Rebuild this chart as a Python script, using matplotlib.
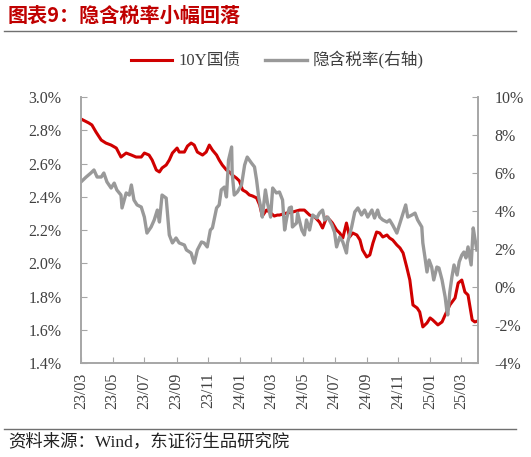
import matplotlib
matplotlib.use('Agg')
import matplotlib.pyplot as plt
import matplotlib.dates as mdates
import pandas as pd

# Data (days counted from 2023-03-01)
start = pd.Timestamp('2023-03-01')

cgb_days = [0, 15, 21, 29, 39, 48, 58, 68, 77, 87, 97, 106, 116, 122, 131, 137, 145, 151,
            156, 164, 170, 176, 185, 189, 199, 205, 212, 218, 224, 234, 241, 247, 253, 261,
            266, 272, 280, 286, 291, 299, 305, 311, 318, 324, 330, 338, 344, 349, 357, 363,
            372, 378, 382, 396, 407, 421, 430, 440, 450, 459, 465, 473, 479, 484, 492, 498,
            504, 511, 517, 523, 531, 537, 542, 550, 556, 562, 569, 575, 581, 589, 594, 600,
            608, 614, 620, 627, 633, 639, 647, 652, 658, 666, 672, 677, 687, 695, 701, 710,
            720, 726, 733, 739, 745, 753, 758, 764]
cgb_10y = [2.868, 2.844, 2.832, 2.789, 2.741, 2.723, 2.711, 2.693, 2.639, 2.663, 2.651, 2.639,
           2.639, 2.663, 2.651, 2.621, 2.561, 2.549, 2.573, 2.591, 2.621, 2.663, 2.693, 2.669,
           2.669, 2.705, 2.723, 2.711, 2.669, 2.651, 2.669, 2.711, 2.681, 2.651, 2.621, 2.591,
           2.561, 2.549, 2.531, 2.513, 2.495, 2.441, 2.429, 2.411, 2.405, 2.393, 2.350, 2.284,
           2.320, 2.308, 2.284, 2.290, 2.290, 2.302, 2.308, 2.320, 2.320, 2.290, 2.278, 2.248,
           2.212, 2.278, 2.260, 2.242, 2.200, 2.182, 2.152, 2.242, 2.158, 2.182, 2.170, 2.140,
           2.080, 2.038, 2.050, 2.122, 2.188, 2.182, 2.158, 2.170, 2.152, 2.140, 2.110, 2.092,
           2.062, 1.977, 1.899, 1.749, 1.731, 1.707, 1.617, 1.641, 1.671, 1.659, 1.629, 1.647,
           1.689, 1.749, 1.791, 1.881, 1.899, 1.827, 1.809, 1.659, 1.647, 1.653]

tax_days = [0, 10, 19, 25, 31, 39, 44, 50, 58, 64, 69, 77, 79, 87, 93, 97, 102, 108, 116,
            122, 127, 135, 141, 147, 151, 156, 164, 170, 176, 183, 189, 199, 203, 212, 218,
            224, 232, 237, 243, 249, 253, 261, 266, 270, 276, 280, 284, 290, 291, 295, 301,
            309, 315, 320, 328, 334, 338, 342, 347, 349, 355, 359, 365, 369, 376, 382, 388,
            392, 396, 401, 405, 407, 415, 417, 425, 430, 434, 440, 446, 454, 459, 465, 469,
            475, 483, 488, 492, 498, 504, 511, 513, 521, 527, 533, 540, 546, 552, 560, 565,
            571, 575, 581, 589, 594, 600, 608, 614, 620, 625, 629, 637, 643, 648, 656, 658,
            662, 666, 670, 675, 679, 685, 689, 695, 701, 704, 706, 710, 714, 718, 724, 728,
            733, 737, 741, 745, 751, 755, 758, 762]
tax_rate = [5.53, 5.79, 6.00, 6.16, 5.79, 5.79, 6.00, 5.53, 5.21, 5.47, 5.11, 4.84, 4.16,
            4.95, 4.84, 5.37, 4.58, 4.32, 4.21, 3.68, 2.84, 3.16, 3.53, 4.05, 3.42, 4.84,
            4.68, 2.74, 2.32, 2.58, 2.32, 2.21, 1.95, 1.79, 1.26, 1.95, 2.37, 2.32, 2.11,
            3.00, 3.11, 4.16, 4.32, 5.11, 5.26, 4.74, 6.68, 7.37, 6.00, 4.84, 5.00, 5.37,
            6.42, 6.84, 6.53, 6.32, 5.63, 4.74, 4.05, 3.68, 5.11, 4.42, 3.68, 5.21, 4.95,
            5.00, 4.58, 3.00, 3.63, 4.16, 4.21, 3.16, 3.37, 3.89, 3.00, 2.74, 3.53, 3.00,
            3.79, 3.63, 3.89, 4.05, 3.53, 3.68, 3.26, 2.89, 2.11, 2.63, 2.37, 1.79, 2.32,
            3.16, 3.95, 4.16, 3.79, 4.05, 3.68, 4.05, 3.63, 4.05, 3.68, 3.53, 3.42, 3.53,
            3.26, 2.84, 3.37, 3.89, 4.32, 3.68, 3.79, 3.89, 3.53, 3.16, 2.32, 1.58, 0.79,
            1.42, 1.05, 0.37, 1.05, 1.00, 0.37, -0.53, -1.21, -1.47, -0.26, 0.53, 1.16,
            0.63, 1.32, 1.68, 1.84, 1.53, 2.11, 1.16, 3.11, 2.58, 1.95]

cgb_dates = start + pd.to_timedelta(cgb_days, unit='D')
tax_dates = start + pd.to_timedelta(tax_days, unit='D')

left_ticks = [1.4, 1.6, 1.8, 2.0, 2.2, 2.4, 2.6, 2.8, 3.0]
right_ticks = [-4, -2, 0, 2, 4, 6, 8, 10]

serif = ['Liberation Serif', 'Noto Sans CJK SC']
red = '#D00000'
grey = '#999999'
spine_c = '#A6A6A6'
text_c = '#404040'

plt.rcParams['font.family'] = serif

fig = plt.figure(figsize=(5.31, 4.57), dpi=100)
ax = fig.add_axes([0.1525, 0.2057, 0.7475, 0.582])
ax2 = ax.twinx()

ax.plot(cgb_dates, cgb_10y, color=red, lw=2.2, label='10Y国债')
ax2.plot(tax_dates, tax_rate, color=grey, lw=2.4, label='隐含税率(右轴)')

ax.set_xlim(start, start + pd.Timedelta(days=764))
ax.set_ylim(1.4, 3.0)
ax2.set_ylim(-4, 10)
ax.set_yticks(left_ticks)
ax.set_yticklabels([f'{v:.1f}%' for v in left_ticks])
ax2.set_yticks(right_ticks)
ax2.set_yticklabels([f'{v}%' for v in right_ticks])

ax.xaxis.set_major_locator(mdates.MonthLocator(bymonth=[1, 3, 5, 7, 9, 11]))
ax.xaxis.set_major_formatter(mdates.DateFormatter('%y/%m'))

for a in (ax, ax2):
    a.spines['top'].set_visible(False)
    for s in ('left', 'right', 'bottom'):
        a.spines[s].set_color(spine_c)
        a.spines[s].set_linewidth(1.2)
    a.tick_params(direction='in', length=4, color=spine_c, labelsize=11.5,
                  labelcolor=text_c)
ax.tick_params(axis='y', pad=14)
ax2.tick_params(axis='y', pad=12)
ax.tick_params(axis='x', pad=7)
for lbl in ax.get_xticklabels():
    lbl.set_rotation(90)

h1, l1 = ax.get_legend_handles_labels()
h2, l2 = ax2.get_legend_handles_labels()
fig.legend(h1 + h2, l1 + l2, loc='center', bbox_to_anchor=(0.522, 0.868), ncol=2,
           frameon=False, fontsize=12, handlelength=2.5, handletextpad=0.35,
           columnspacing=1.5, labelcolor=text_c)

# title, rules and source
fig.text(0.015, 0.967, '图表9：隐含税率小幅回落', color='#C00000', fontsize=14.5,
         fontweight='bold', family=['Noto Sans CJK SC'], va='center', ha='left')
fig.add_artist(plt.Line2D([0.008, 0.972], [0.932, 0.932], color='#707070', lw=1.0))
fig.add_artist(plt.Line2D([0.008, 0.972], [0.062, 0.062], color='#707070', lw=1.0))
fig.text(0.015, 0.033, '资料来源：Wind，东证衍生品研究院', color='#222222',
         fontsize=12.5, va='center', ha='left')

fig.savefig('out.png', dpi=100)
